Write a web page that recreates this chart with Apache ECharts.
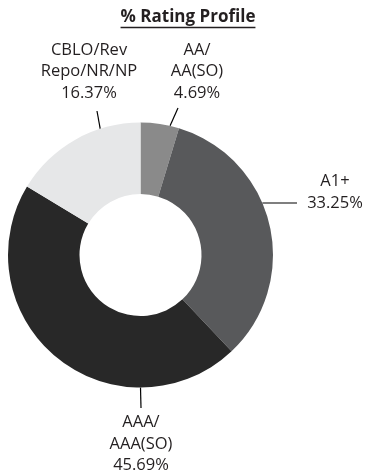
<!DOCTYPE html>
<html>
<head>
<meta charset="utf-8">
<script src="https://cdn.jsdelivr.net/npm/echarts@6/dist/echarts.min.js"></script>
<style>
  html, body { margin: 0; padding: 0; background: #fff; }
  #chart { width: 367px; height: 472px; }
</style>
</head>
<body>
<div id="chart"></div>
<script>
// Rating buckets, clockwise from 12 o'clock
const categories = ['AA/\nAA(SO)', 'A1+', 'AAA/\nAAA(SO)', 'CBLO/Rev\nRepo/NR/NP'];
const shares = [4.69, 33.25, 45.69, 16.37];
const sliceColors = ['#8a8a8a', '#58595b', '#282828', '#e6e7e8'];

const TITLE = '% Rating Profile';
const TEXT_COLOR = '#231f20';
const FONT = '"Open Sans", "DejaVu Sans", sans-serif';

// ring geometry (px)
const CX = 140.5, CY = 255, R_IN = 61, R_OUT = 132.5;

// callouts: where the leader leaves the ring (deg clockwise from top), leader end, text centre
const callouts = [
  { angle: 12.9,  end: [178, 108], text: [197, 71.5] },
  { angle: 66.9,  end: [297, 203], text: [335, 192.5] },
  { angle: 180,   end: [141, 408], text: [141, 444] },
  { angle: 342.3, end: [97, 111],  text: [89, 71.5] }
];

function ringPoint(deg) {
  const a = deg * Math.PI / 180;
  return [CX + R_OUT * Math.sin(a), CY - R_OUT * Math.cos(a)];
}

// title width for the underline
const titleFont = 'bold 17px ' + FONT;
const ctx = document.createElement('canvas').getContext('2d');
ctx.font = titleFont;
const titleW = ctx.measureText(TITLE).width;
const TITLE_X = 188, TITLE_Y = 17;

const chart = echarts.init(document.getElementById('chart'), null, { renderer: 'canvas' });

chart.setOption({
  backgroundColor: '#ffffff',
  animation: false,
  graphic: [
    {
      type: 'text',
      x: TITLE_X, y: TITLE_Y,
      style: { text: TITLE, font: titleFont, fill: TEXT_COLOR, align: 'center', verticalAlign: 'middle' }
    },
    {
      type: 'line',
      shape: { x1: TITLE_X - titleW / 2, y1: 27.5, x2: TITLE_X + titleW / 2, y2: 27.5 },
      style: { stroke: TEXT_COLOR, lineWidth: 1.3 }
    }
  ],
  series: [{
    type: 'pie',
    center: [CX, CY],
    radius: [R_IN, R_OUT],
    startAngle: 90,
    clockwise: true,
    avoidLabelOverlap: false,
    data: categories.map((name, i) => ({
      name: name,
      value: shares[i],
      itemStyle: { color: sliceColors[i] }
    })),
    label: {
      show: true,
      position: 'outside',
      formatter: p => p.name + '\n' + p.value.toFixed(2) + '%',
      color: TEXT_COLOR,
      fontFamily: FONT,
      fontSize: 16.5,
      lineHeight: 21.5
    },
    labelLine: {
      show: true,
      length: 10,
      length2: 10,
      smooth: false,
      lineStyle: { color: '#000', width: 1.2 }
    },
    emphasis: { disabled: true },
    labelLayout: function (params) {
      const c = callouts[params.dataIndex];
      return {
        x: c.text[0],
        y: c.text[1],
        align: 'center',
        verticalAlign: 'middle',
        labelLinePoints: [ringPoint(c.angle), c.end, c.end]
      };
    }
  }]
});
</script>
</body>
</html>
